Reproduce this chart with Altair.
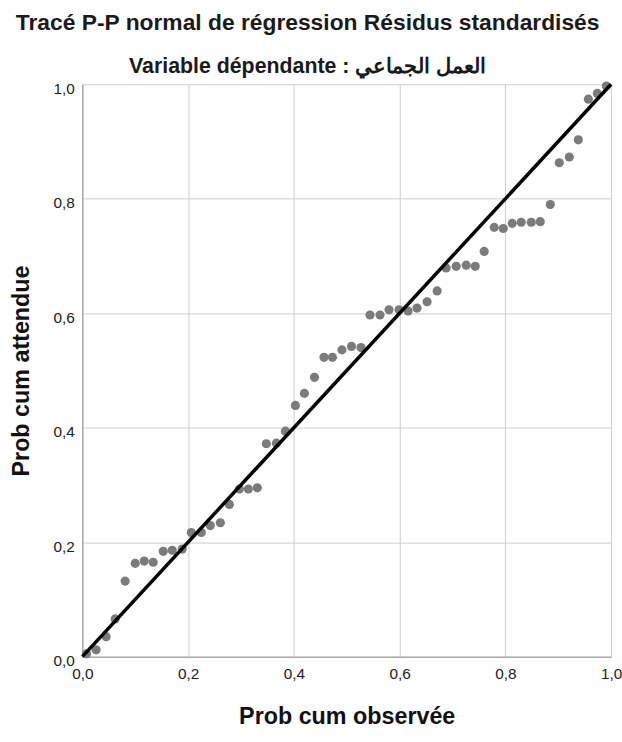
import altair as alt
import pandas as pd

# Observed cumulative probability (x) and expected cumulative probability (y)
observed = [0.008, 0.026, 0.045, 0.062, 0.081, 0.100, 0.117, 0.134, 0.153, 0.170,
            0.189, 0.206, 0.225, 0.242, 0.261, 0.278, 0.297, 0.314, 0.331, 0.348,
            0.367, 0.384, 0.403, 0.420, 0.439, 0.457, 0.473, 0.491, 0.509, 0.527,
            0.544, 0.563, 0.580, 0.599, 0.616, 0.633, 0.652, 0.671, 0.688, 0.707,
            0.726, 0.743, 0.760, 0.779, 0.796, 0.813, 0.830, 0.849, 0.866, 0.885,
            0.902, 0.921, 0.938, 0.957, 0.974, 0.991]
expected = [0.005, 0.012, 0.035, 0.066, 0.132, 0.163, 0.167, 0.165, 0.184, 0.186,
            0.188, 0.217, 0.217, 0.229, 0.234, 0.266, 0.293, 0.293, 0.295, 0.372,
            0.373, 0.394, 0.439, 0.460, 0.488, 0.523, 0.523, 0.536, 0.542, 0.540,
            0.597, 0.597, 0.606, 0.606, 0.604, 0.609, 0.620, 0.639, 0.679, 0.682,
            0.684, 0.682, 0.708, 0.750, 0.748, 0.757, 0.759, 0.759, 0.760, 0.790,
            0.863, 0.873, 0.903, 0.974, 0.984, 0.997]

ref_x = [0.0, 1.0]
ref_y = [0.0, 1.0]
tick_values = [0.0, 0.2, 0.4, 0.6, 0.8, 1.0]

pts = pd.DataFrame({"obs": observed, "exp": expected})
ref = pd.DataFrame({"obs": ref_x, "exp": ref_y})

FONT = "Liberation Sans"
label_expr = "replace(format(datum.value, '.1f'), '.', ',')"

x_enc = alt.X(
    "obs:Q",
    scale=alt.Scale(domain=[0, 1], nice=False, zero=False),
    axis=alt.Axis(
        values=tick_values,
        labelExpr=label_expr,
        labelFlush=False,
        title="Prob cum observée",
        titlePadding=23,
        labelPadding=10,
    ),
)
y_enc = alt.Y(
    "exp:Q",
    scale=alt.Scale(domain=[0, 1], nice=False, zero=False),
    axis=alt.Axis(
        values=tick_values,
        labelExpr=label_expr,
        labelFlush=False,
        title="Prob cum attendue",
        titlePadding=20,
        labelPadding=8,
        labelOffset=4,
    ),
)

points = alt.Chart(pts).mark_circle(size=85, color="#7b7b7b", opacity=1).encode(
    x=x_enc, y=y_enc
)
line = alt.Chart(ref).mark_line(color="#000000", strokeWidth=3.5).encode(
    x=alt.X("obs:Q"), y=alt.Y("exp:Q")
)

chart = (
    alt.layer(points, line)
    .properties(
        width=533,
        height=577,
        padding={"left": 9, "top": 9, "right": 0, "bottom": 5},
        title=alt.TitleParams(
            text="Tracé P-P normal de régression Résidus standardisés",
            subtitle="Variable dépendante : العمل الجماعي",
            anchor="middle",
            frame="bounds",
            dx=-8,
            font=FONT,
            fontSize=23,
            fontWeight="bold",
            color="#1a1a1a",
            subtitleFont=FONT,
            subtitleFontSize=21.5,
            subtitleFontWeight="bold",
            subtitleColor="#1a1a1a",
            subtitlePadding=21,
            offset=0,
        ),
    )
    .configure_view(stroke=None)
    .configure_axis(
        labelFont=FONT,
        labelFontSize=15.5,
        labelColor="#222222",
        titleFont=FONT,
        titleFontSize=23.5,
        titleFontWeight="bold",
        titleColor="#111111",
        grid=True,
        gridColor="#cccccc",
        gridWidth=1,
        domainColor="#8f8f8f",
        domainWidth=1,
        ticks=False,
    )
)

chart.save("out.html", embed_options={"renderer": "svg", "actions": False})
